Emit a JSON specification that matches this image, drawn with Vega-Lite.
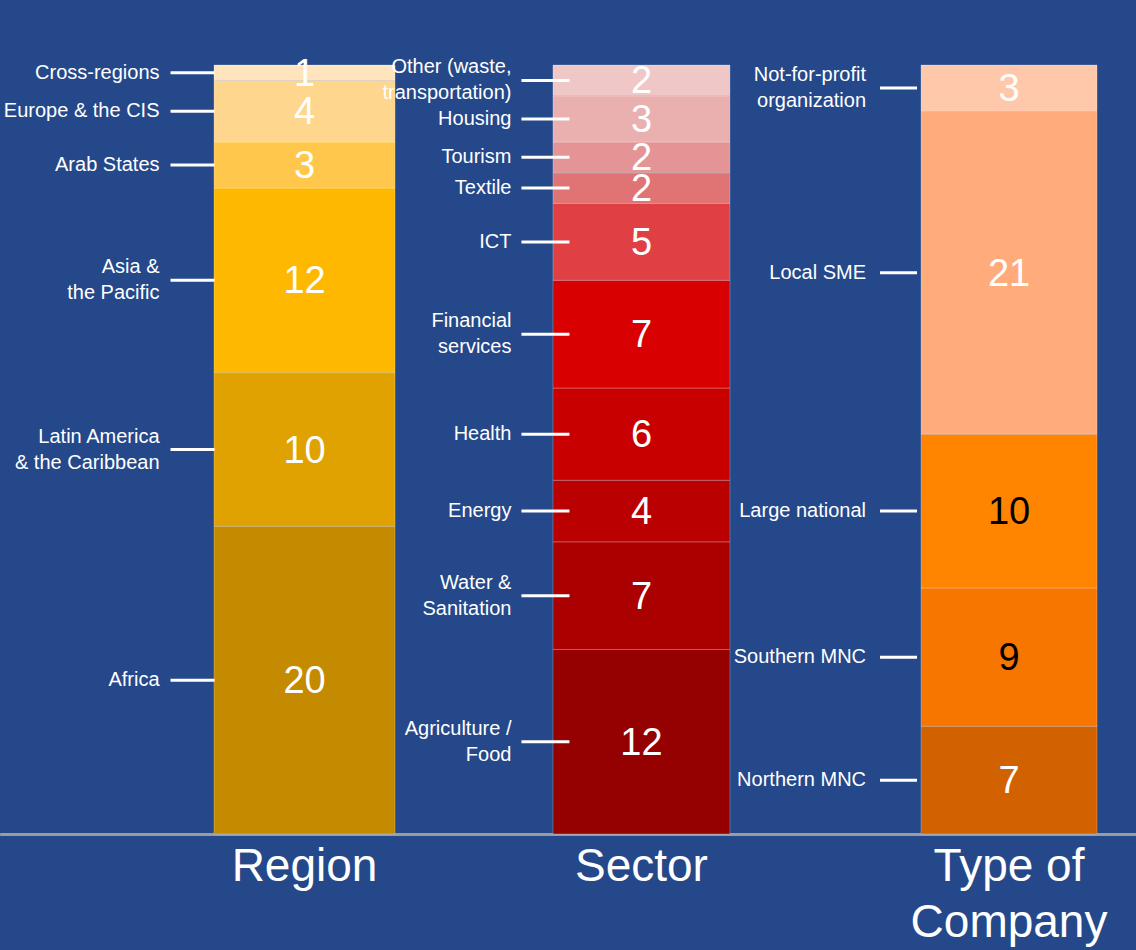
{
  "$schema": "https://vega.github.io/schema/vega-lite/v6.json",
  "width": 1136,
  "height": 834,
  "autosize": "none",
  "padding": {"left": 0, "top": 0, "right": 0, "bottom": 116},
  "background": "#25488A",
  "config": {"view": {"stroke": null}},
  "datasets": {
    "rows": [
      {"group": "Region", "category": "Africa", "value": 20},
      {"group": "Region", "category": "Latin America\n& the Caribbean", "value": 10},
      {"group": "Region", "category": "Asia &\nthe Pacific", "value": 12},
      {"group": "Region", "category": "Arab States", "value": 3},
      {"group": "Region", "category": "Europe & the CIS", "value": 4},
      {"group": "Region", "category": "Cross-regions", "value": 1},
      {"group": "Sector", "category": "Agriculture /\nFood", "value": 12},
      {"group": "Sector", "category": "Water &\nSanitation", "value": 7},
      {"group": "Sector", "category": "Energy", "value": 4},
      {"group": "Sector", "category": "Health", "value": 6},
      {"group": "Sector", "category": "Financial\nservices", "value": 7},
      {"group": "Sector", "category": "ICT", "value": 5},
      {"group": "Sector", "category": "Textile", "value": 2},
      {"group": "Sector", "category": "Tourism", "value": 2},
      {"group": "Sector", "category": "Housing", "value": 3},
      {"group": "Sector", "category": "Other (waste,\ntransportation)", "value": 2},
      {"group": "Type of Company", "category": "Northern MNC", "value": 7},
      {"group": "Type of Company", "category": "Southern MNC", "value": 9},
      {"group": "Type of Company", "category": "Large national", "value": 10},
      {"group": "Type of Company", "category": "Local SME", "value": 21},
      {"group": "Type of Company", "category": "Not-for-profit\norganization", "value": 3}
    ]
  },
  "data": {"name": "rows"},
  "transform": [
    {"window": [{"op": "row_number", "as": "k"}], "groupby": ["group"]},
    {"stack": "value", "groupby": ["group"], "sort": [{"field": "k", "order": "ascending"}], "as": ["y0", "y1"]},
    {"calculate": "(datum.y0 + datum.y1) / 2", "as": "mid"}
  ],
  "layer": [
    {
      "transform": [{"filter": "datum.group === 'Region'"}],
      "encoding": {
        "x": {"field": "group", "type": "nominal",
          "scale": {"domain": ["Region"], "paddingInner": 0.6209, "paddingOuter": 1, "align": 0.2241, "round": false},
          "axis": {"orient": "bottom", "title": null, "labelAngle": 0, "labelFontSize": 46, "labelFont": "Liberation Sans", "labelColor": "white", "labelPadding": 10, "labelLimit": 500, "ticks": false, "domainColor": "#9C9C9C", "domainWidth": 3}}
      },
      "layer": [
        {"mark": {"type": "bar", "stroke": "#FFFFFF", "strokeOpacity": 0.25, "strokeWidth": 1},
         "encoding": {
          "y": {"field": "y0", "type": "quantitative", "scale": {"domain": [0, 54.23], "nice": false, "zero": false}, "axis": null},
          "y2": {"field": "y1"},
          "color": {"field": "category", "type": "nominal", "legend": null,
            "scale": {"domain": ["Africa", "Latin America\n& the Caribbean", "Asia &\nthe Pacific", "Arab States", "Europe & the CIS", "Cross-regions",
              "Agriculture /\nFood", "Water &\nSanitation", "Energy", "Health", "Financial\nservices", "ICT", "Textile", "Tourism", "Housing", "Other (waste,\ntransportation)",
              "Northern MNC", "Southern MNC", "Large national", "Local SME", "Not-for-profit\norganization"],
              "range": ["#C48A00", "#E0A200", "#FFB800", "#FFC84C", "#FFD68E", "#FFE4BE",
              "#950000", "#AA0000", "#BA0000", "#C90000", "#D80000", "#E04044", "#E07474", "#E49494", "#EAAFAF", "#F0C7C7",
              "#D26100", "#F77600", "#FF8500", "#FFAB7C", "#FFC8AB"]}}
         }},
        {"mark": {"type": "rule", "color": "white", "strokeWidth": 3, "xOffset": -134, "x2Offset": -90},
         "encoding": {"x2": {"field": "group"}, "y": {"field": "mid", "type": "quantitative", "scale": {"domain": [0, 54.23], "nice": false, "zero": false}, "axis": null}}},
        {"transform": [{"filter": "indexof(datum.category, '\\n') < 0"}],
         "mark": {"type": "text", "align": "right", "baseline": "middle", "dx": -145, "font": "Liberation Sans", "fontSize": 20, "color": "white"},
         "encoding": {"y": {"field": "mid", "type": "quantitative"}, "text": {"field": "category"}}},
        {"transform": [{"filter": "indexof(datum.category, '\\n') >= 0"}],
         "mark": {"type": "text", "align": "right", "baseline": "middle", "dx": -145, "dy": -13, "font": "Liberation Sans", "fontSize": 20, "lineHeight": 26, "lineBreak": "\n", "color": "white"},
         "encoding": {"y": {"field": "mid", "type": "quantitative"}, "text": {"field": "category"}}},
        {"mark": {"type": "text", "align": "center", "baseline": "middle", "dy": 2, "font": "Liberation Sans", "fontSize": 38, "color": "white"},
         "encoding": {"y": {"field": "mid", "type": "quantitative"}, "text": {"field": "value"}}}
      ]
    },
    {
      "transform": [{"filter": "datum.group === 'Sector'"}],
      "encoding": {
        "x": {"field": "group", "type": "nominal",
          "scale": {"domain": ["Sector"], "paddingInner": 0.63087, "paddingOuter": 1, "align": 0.5766, "round": false},
          "axis": {"orient": "bottom", "title": null, "labelAngle": 0, "labelFontSize": 46, "labelFont": "Liberation Sans", "labelColor": "white", "labelPadding": 10, "labelLimit": 500, "ticks": false, "domainColor": "#9C9C9C", "domainWidth": 3}}
      },
      "layer": [
        {"mark": {"type": "bar", "stroke": "#FFFFFF", "strokeOpacity": 0.25, "strokeWidth": 1},
         "encoding": {
          "y": {"field": "y0", "type": "quantitative", "scale": {"domain": [0, 54.23], "nice": false, "zero": false}, "axis": null},
          "y2": {"field": "y1"},
          "color": {"field": "category", "type": "nominal", "legend": null}
         }},
        {"mark": {"type": "rule", "color": "white", "strokeWidth": 3, "xOffset": -120, "x2Offset": -72},
         "encoding": {"x2": {"field": "group"}, "y": {"field": "mid", "type": "quantitative"}}},
        {"transform": [{"filter": "indexof(datum.category, '\\n') < 0"}],
         "mark": {"type": "text", "align": "right", "baseline": "middle", "dx": -130, "font": "Liberation Sans", "fontSize": 20, "color": "white"},
         "encoding": {"y": {"field": "mid", "type": "quantitative"}, "text": {"field": "category"}}},
        {"transform": [{"filter": "indexof(datum.category, '\\n') >= 0"}],
         "mark": {"type": "text", "align": "right", "baseline": "middle", "dx": -130, "dy": -13, "font": "Liberation Sans", "fontSize": 20, "lineHeight": 26, "lineBreak": "\n", "color": "white"},
         "encoding": {"y": {"field": "mid", "type": "quantitative"}, "text": {"field": "category"}}},
        {"mark": {"type": "text", "align": "center", "baseline": "middle", "dy": 2, "font": "Liberation Sans", "fontSize": 38, "color": "white"},
         "encoding": {"y": {"field": "mid", "type": "quantitative"}, "text": {"field": "value"}}}
      ]
    },
    {
      "transform": [{"filter": "datum.group === 'Type of Company'"}],
      "encoding": {
        "x": {"field": "group", "type": "nominal",
          "scale": {"domain": ["Type of Company"], "paddingInner": 0.63334, "paddingOuter": 1, "align": 0.9594, "round": false},
          "axis": {"orient": "bottom", "title": null, "labelAngle": 0, "labelFontSize": 46, "labelFont": "Liberation Sans", "labelColor": "white", "labelPadding": 10, "labelLimit": 500, "labelLineHeight": 56, "labelExpr": "['Type of', 'Company']", "ticks": false, "domainColor": "#9C9C9C", "domainWidth": 3}}
      },
      "layer": [
        {"mark": {"type": "bar", "stroke": "#FFFFFF", "strokeOpacity": 0.25, "strokeWidth": 1},
         "encoding": {
          "y": {"field": "y0", "type": "quantitative", "scale": {"domain": [0, 54.23], "nice": false, "zero": false}, "axis": null},
          "y2": {"field": "y1"},
          "color": {"field": "category", "type": "nominal", "legend": null}
         }},
        {"mark": {"type": "rule", "color": "white", "strokeWidth": 3, "xOffset": -129, "x2Offset": -92},
         "encoding": {"x2": {"field": "group"}, "y": {"field": "mid", "type": "quantitative"}}},
        {"transform": [{"filter": "indexof(datum.category, '\\n') < 0"}],
         "mark": {"type": "text", "align": "right", "baseline": "middle", "dx": -143, "font": "Liberation Sans", "fontSize": 20, "color": "white"},
         "encoding": {"y": {"field": "mid", "type": "quantitative"}, "text": {"field": "category"}}},
        {"transform": [{"filter": "indexof(datum.category, '\\n') >= 0"}],
         "mark": {"type": "text", "align": "right", "baseline": "middle", "dx": -143, "dy": -13, "font": "Liberation Sans", "fontSize": 20, "lineHeight": 26, "lineBreak": "\n", "color": "white"},
         "encoding": {"y": {"field": "mid", "type": "quantitative"}, "text": {"field": "category"}}},
        {"mark": {"type": "text", "align": "center", "baseline": "middle", "dy": 2, "font": "Liberation Sans", "fontSize": 38},
         "encoding": {"y": {"field": "mid", "type": "quantitative"}, "text": {"field": "value"},
           "color": {"condition": {"test": "datum.category === 'Large national' || datum.category === 'Southern MNC'", "value": "black"}, "value": "white"}}}
      ]
    }
  ],
  "resolve": {"scale": {"x": "independent"}, "axis": {"x": "independent"}}
}
